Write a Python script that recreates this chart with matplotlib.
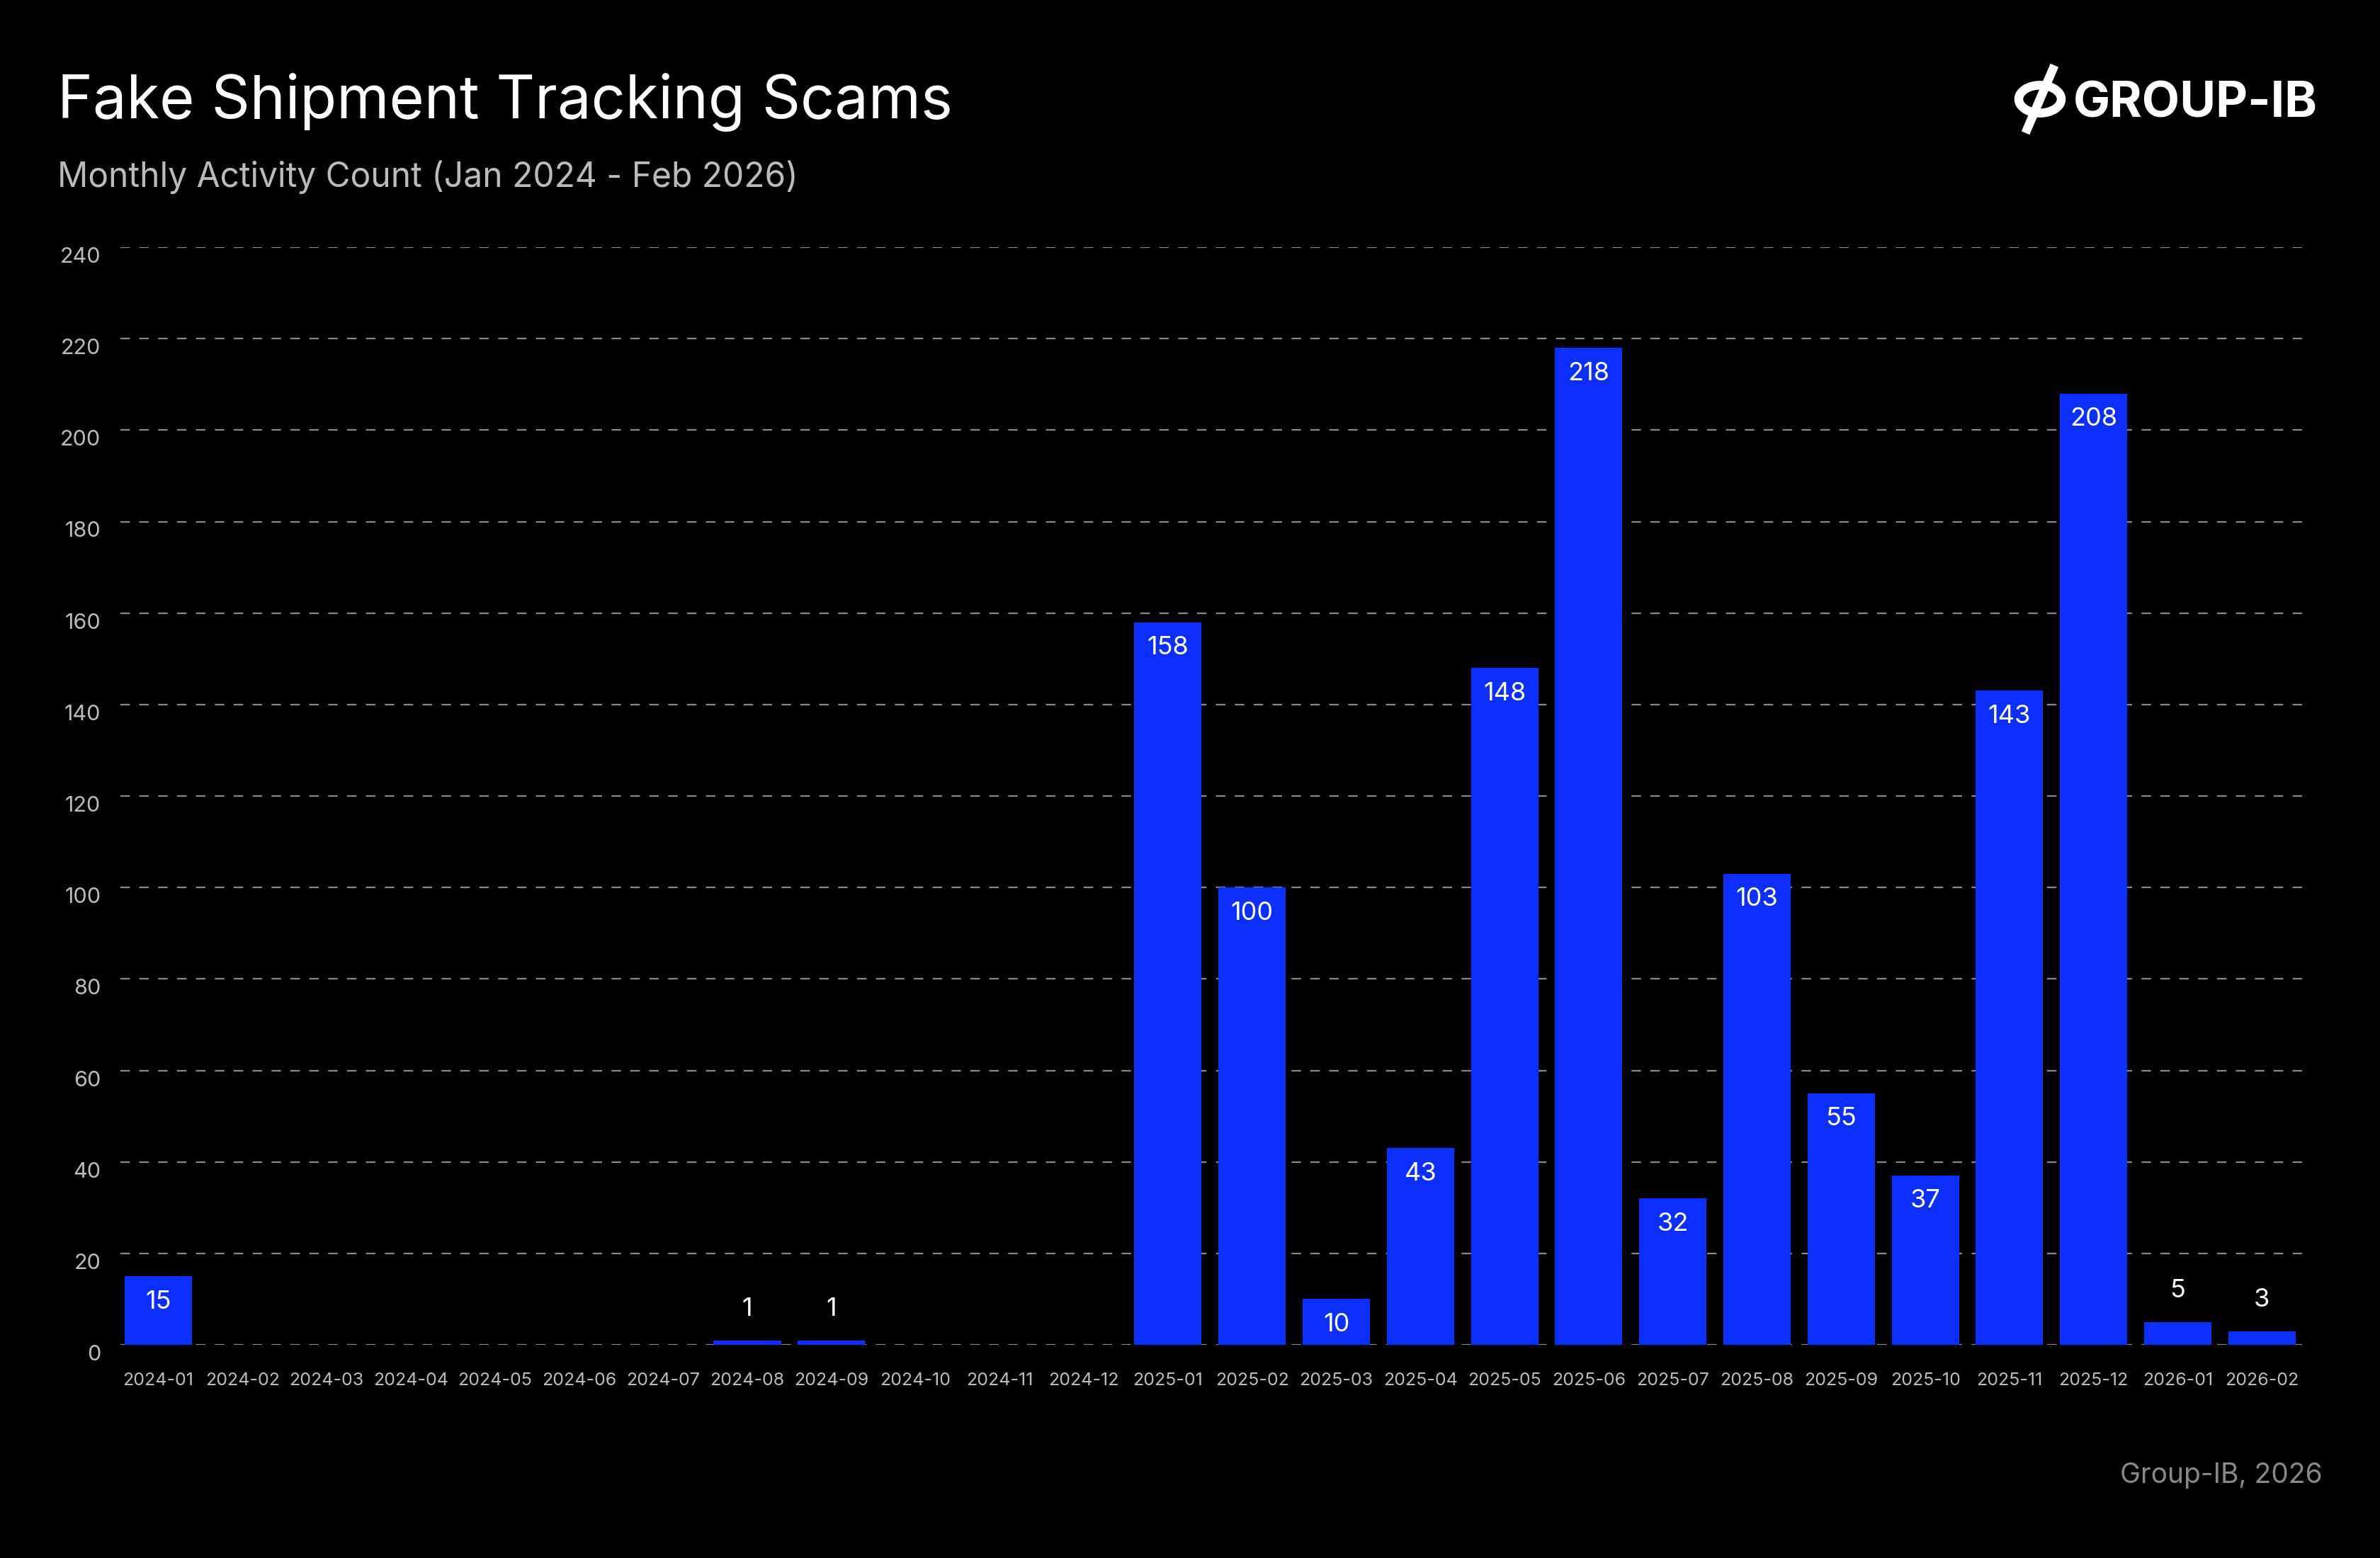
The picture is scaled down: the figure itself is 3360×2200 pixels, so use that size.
import matplotlib
matplotlib.use("Agg")
import matplotlib.pyplot as plt
from matplotlib.patches import Circle
from matplotlib.lines import Line2D

months = ["2024-01","2024-02","2024-03","2024-04","2024-05","2024-06","2024-07","2024-08","2024-09","2024-10","2024-11","2024-12",
          "2025-01","2025-02","2025-03","2025-04","2025-05","2025-06","2025-07","2025-08","2025-09","2025-10","2025-11","2025-12",
          "2026-01","2026-02"]
counts = [15,0,0,0,0,0,0,1,1,0,0,0,158,100,10,43,148,218,32,103,55,37,143,208,5,3]
yticks = [0,20,40,60,80,100,120,140,160,180,200,220,240]

plt.rcParams['font.family'] = ['Inter', 'DejaVu Sans']
W, H = 3360, 2200
fig = plt.figure(figsize=(33.6, 22), dpi=100, facecolor='black')
ax = fig.add_axes([170/W, 1 - 1899/H, (3255-170)/W, (1899-349)/H], facecolor='black')

x = list(range(len(months)))
ax.bar(x, counts, width=0.8, color='#0c2fff', zorder=3)
for xi, v in zip(x, counts):
    if v == 0:
        continue
    if v >= 8:
        ax.annotate(str(v), (xi, v), xytext=(0, -14), textcoords='offset points',
                    ha='center', va='top', color='white', fontsize=26, zorder=4)
    else:
        ax.annotate(str(v), (xi, v), xytext=(0, 20), textcoords='offset points',
                    ha='center', va='bottom', color='white', fontsize=26, zorder=4)

ax.set_xlim(-0.45, len(months) - 1 + 0.52)
ax.set_ylim(0, 240)
ax.set_yticks(yticks)
ax.set_xticks(x)
ax.set_xticklabels(months)
ax.tick_params(axis='x', colors='#bbbbbb', labelsize=18, length=0, pad=28)
ax.tick_params(axis='y', colors='#bbbbbb', labelsize=22, length=0, pad=20)
for lab in ax.get_yticklabels():
    lab.set_verticalalignment('top')
ax.grid(axis='y', color='#888888', linestyle=(0, (6, 6)), linewidth=1.6, zorder=0)
for s in ax.spines.values():
    s.set_visible(False)

fig.text(81/W, 1 - 167/H, "Fake Shipment Tracking Scams", color='white', fontsize=61, ha='left', va='baseline')
fig.text(81/W, 1 - 264/H, "Monthly Activity Count (Jan 2024 - Feb 2026)", color='#bbbbbb', fontsize=34.5, ha='left', va='baseline')
fig.text(3279/W, 1 - 2094/H, "Group-IB, 2026", color='#888888', fontsize=28, ha='right', va='baseline')
fig.text(3272/W, 1 - 165/H, "GROUP-IB", color='white', fontsize=50, fontweight='bold', ha='right', va='baseline')

# logo mark
cx, cy, r = 2880, 140, 30
fig.patches.append(Circle((cx/W, 1 - cy/H), r/W, transform=fig.transFigure, fill=False,
                          edgecolor='white', linewidth=9))
fig.lines.append(Line2D([(cx - 18)/W, (cx + 18)/W], [1 - (cy + 42)/H, 1 - (cy - 42)/H],
                        transform=fig.transFigure, color='white', linewidth=9))

fig.savefig("out.png", dpi=100, facecolor='black')
